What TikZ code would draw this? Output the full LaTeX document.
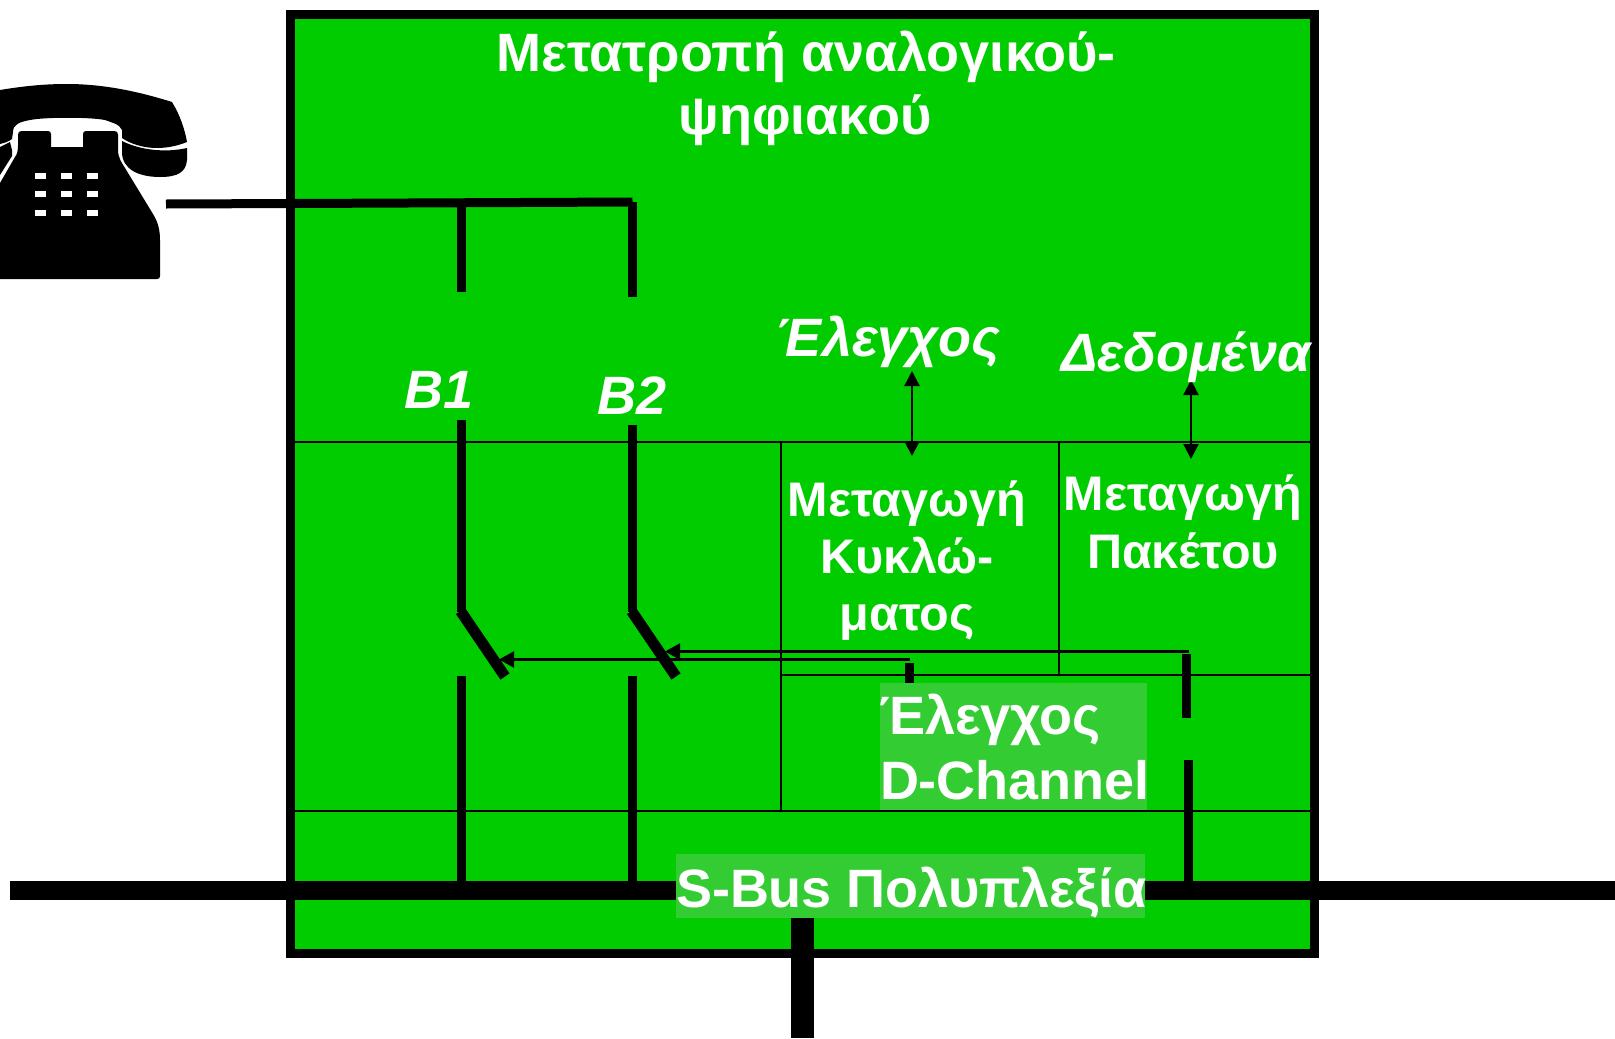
\documentclass[tikz,border=0pt]{standalone}
\usepackage{fontspec}
\setmainfont{Liberation Sans}
\usetikzlibrary{arrows.meta}
\definecolor{basegreen}{HTML}{00CC00}
\definecolor{lightgreen}{HTML}{33CC33}
\tikzset{
 heavy/.style={line width=9pt,black},
 bus/.style={line width=19pt,black},
 thin rule/.style={line width=2pt,black},
 ctrl/.style={line width=2.4pt,black,-{Triangle[length=15pt,width=16pt]}},
 ctrlboth/.style={line width=2.4pt,black,{Triangle[length=15pt,width=15pt]}-{Triangle[length=15pt,width=15pt]}},
 lbl/.style={anchor=base,text=white,font=\fontsize{54}{54}\selectfont\bfseries,inner sep=0pt,outer sep=0pt},
 cell/.style={lbl,font=\fontsize{48.5}{48.5}\selectfont\bfseries},
 ital/.style={lbl,font=\fontsize{54}{54}\selectfont\bfseries\itshape},
 lightbox/.style={fill=lightgreen,draw=none,inner sep=0pt,outer sep=0pt,anchor=north west},
}
\begin{document}
\begin{tikzpicture}[x=1pt,y=-1pt]
\useasboundingbox (0,0) rectangle (1615,1039);
% main block
\node[draw=black,line width=9pt,fill=basegreen,inner sep=0pt,outer sep=0pt,minimum width=1023.5pt,minimum height=939.5pt,anchor=north west] (block) at (290.5,14) {};
% phone
\fill[black] (0,90) .. controls (30,85) and (50,84) .. (67,84) .. controls (105,84) and (140,92) .. (172,102)
 .. controls (180,115) and (185,130) .. (187,142) .. controls (165,151) and (140,150) .. (122,138)
 -- (122,130) .. controls (120,124) and (110,122) .. (105,120) .. controls (90,117) and (45,117) .. (30,120)
 .. controls (20,122) and (13,124) .. (13,132) -- (12,139) .. controls (8,142) and (4,143) .. (0,144) -- cycle;
\fill[black] (122,141) .. controls (140,150) and (165,153) .. (187,148) -- (187,160) .. controls (186,172) and (178,177) .. (160,177) .. controls (140,177) and (122,170) .. (122,152) -- cycle;
\fill[black] (0,147) -- (10,142) -- (12,150) -- (12,156) -- (0,175) -- cycle;
\fill[black] (18,135) .. controls (18,132) and (19,131) .. (22,131) -- (48,131) .. controls (50,131) and (51,132) .. (51,134) -- (51,147) -- (83,147) -- (83,134) .. controls (83,132) and (84,131) .. (86,131) -- (114,131) .. controls (117,131) and (118,132) .. (118,135)
 -- (118,150) .. controls (118,158) and (122,163) .. (125,168) -- (153,214) .. controls (158,222) and (160,230) .. (160,240) -- (160,276) .. controls (160,278) and (159,279) .. (157,279) -- (0,279) -- (0,183) -- (15,157) .. controls (17,155) and (18,150) .. (18,146) -- cycle;
\foreach \yy in {173,191,210} \foreach \xx in {35,61,87}
 \fill[white] (\xx,\yy) rectangle ++(10.5,5.5);
% light label backgrounds
\node[lightbox,minimum width=267pt,minimum height=127pt] (dbox) at (880,682.5) {};
\node[lightbox,minimum width=469pt,minimum height=64pt] (sbusbox) at (676,853.5) {};
% coordinates
\coordinate (phoneEnd) at (166,204);
\coordinate (junction) at (632.5,202);
\coordinate (b1top) at (461.5,203);
\coordinate (b1a) at (461.5,291.5);
\coordinate (b1b) at (461.5,420);
\coordinate (b1c) at (461.5,612);
\coordinate (b1d) at (461.5,676);
\coordinate (b1e) at (461.5,881);
\coordinate (b1blA) at (460.5,611);
\coordinate (b1blB) at (505,676.5);
\coordinate (b2a) at (632.5,297);
\coordinate (b2b) at (632.5,425);
\coordinate (b2c) at (632.5,612);
\coordinate (b2d) at (632.5,676);
\coordinate (b2e) at (632.5,881);
\coordinate (b2blA) at (631.5,611);
\coordinate (b2blB) at (676,676.5);
\coordinate (busL) at (10,890);
\coordinate (busR) at (1615,890);
\coordinate (stemEnd) at (802.5,1038);
% rules
\coordinate (r1l) at (295,441.5); \coordinate (r1r) at (1311,441.5);
\coordinate (r2l) at (295,811); \coordinate (r2r) at (1311,811);
\coordinate (r3l) at (782,675); \coordinate (r3r) at (1311,675);
\coordinate (v1t) at (781,441.5); \coordinate (v1b) at (781,811);
\coordinate (v2t) at (1059,441.5); \coordinate (v2b) at (1059,675);
\draw[thin rule] (r1l) -- (r1r);
\draw[thin rule] (r2l) -- (r2r);
\draw[thin rule] (r3l) -- (r3r);
\draw[thin rule] (v1t) -- (v1b);
\draw[thin rule] (v2t) -- (v2b);
% B lines
\draw[heavy] (phoneEnd) -- (295,203.5) -- (junction);
\draw[heavy] (b1top) -- (b1a);
\draw[heavy] (junction) -- (b2a);
\draw[heavy] (b1b) -- (b1c);
\draw[heavy] (b2b) -- (b2c);
\draw[heavy] (b1d) -- (b1e);
\draw[heavy] (b2d) -- (b2e);
\draw[line width=11pt] (b1blA) -- (b1blB);
\draw[line width=11pt] (b2blA) -- (b2blB);
% bus
\draw[bus] (busL) -- (busL -| sbusbox.west);
\draw[bus] (busR -| sbusbox.east) -- (busR);
\draw[line width=23pt] (sbusbox.south -| stemEnd) -- (stemEnd);
% control lines
\coordinate (c1s) at (910,659.5); \coordinate (c1t) at (499,659.5);
\coordinate (c2s) at (1189,651.5); \coordinate (c2t) at (665,651.5);
\draw[ctrl] (c1s) -- (c1t);
\draw[ctrl] (c2s) -- (c2t);
\coordinate (st1a) at (909,663);
\draw[heavy] (st1a) -- (st1a |- dbox.north);
\coordinate (st2a) at (1186.5,654); \coordinate (st2b) at (1186.5,718);
\draw[heavy] (st2a) -- (st2b);
\coordinate (st3a) at (1188,760); \coordinate (st3b) at (1188,881);
\draw[heavy] (st3a) -- (st3b);
\coordinate (a1t) at (912,371); \coordinate (a1b) at (912,456);
\coordinate (a2t) at (1191,380); \coordinate (a2b) at (1191,459);
\draw[ctrlboth] (a1t) -- (a1b);
\draw[ctrlboth] (a2t) -- (a2b);
% text
\node[lbl] (t1) at (806,71) {Μετατροπή αναλογικού-};
\node[lbl] (t2) at (805,134) {ψηφιακού};
\node[ital] (tb1) at (439,408) {B1};
\node[ital] (tb2) at (632,414) {B2};
\node[ital] (te) at (888,356) {Έλεγχος};
\node[ital] (td) at (1186,371) {Δεδομένα};
\node[cell] (m1) at (907,516) {Μεταγωγή};
\node[cell] (m2) at (907,573) {Κυκλώ-};
\node[cell] (m3) at (907,630) {ματος};
\node[cell] (p1) at (1183,510) {Μεταγωγή};
\node[cell] (p2) at (1183,568) {Πακέτου};
\node[lbl,anchor=base west] (de) at (879,734) {Έλεγχος};
\node[lbl,anchor=base west] (dc) at (880,799) {D-Channel};
\node[lbl,anchor=base west] (sb) at (676,907) {S-Bus Πολυπλεξία};
\end{tikzpicture}
\end{document}
